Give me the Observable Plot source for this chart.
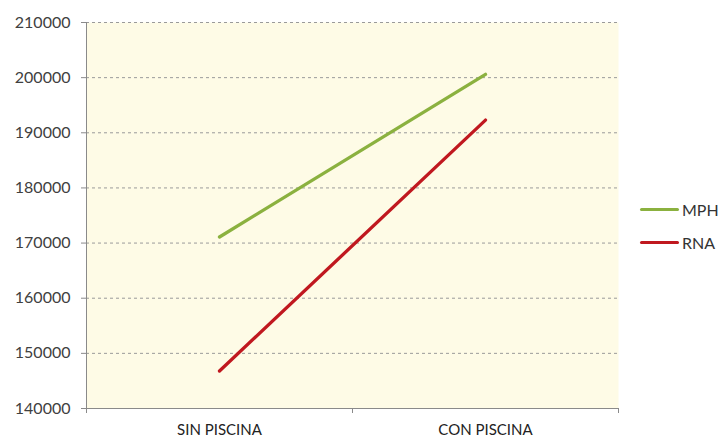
<!DOCTYPE html>
<html>
<head>
<meta charset="utf-8">
<script src="https://cdn.jsdelivr.net/npm/d3@7"></script>
<script src="https://cdn.jsdelivr.net/npm/@observablehq/plot@0.6"></script>
<style>
  body { margin: 0; background: #fff; }
  #wrap { position: relative; width: 719px; height: 437px; font-family: Lato, "Open Sans", sans-serif; }
  .leg { position: absolute; left: 640px; display: flex; align-items: center; font-size: 16px; color: #333; }
  .leg span.sw { display: inline-block; width: 39px; height: 3px; margin-right: 3px; border-radius: 2px; }
</style>
</head>
<body>
<div id="wrap"></div>
<script>
const categories = ["SIN PISCINA", "CON PISCINA"];
const seriesNames = ["MPH", "RNA"];
const mph = [171100, 200600];
const rna = [146800, 192300];
const yTicks = [140000, 150000, 160000, 170000, 180000, 190000, 200000, 210000];
const colors = ["#8BB13F", "#C0181F"];

const data = [];
[mph, rna].forEach((vals, s) => vals.forEach((v, i) => data.push({series: seriesNames[s], i: i + 0.5, value: v})));

const chart = Plot.plot({
  width: 719,
  height: 437,
  marginLeft: 86,
  marginRight: 101,
  marginTop: 22,
  marginBottom: 29,
  style: {fontFamily: "Lato, 'Open Sans', sans-serif", color: "#404040", background: "#fff"},
  x: {domain: [0, categories.length]},
  y: {domain: [140000, 210000]},
  color: {domain: seriesNames, range: colors},
  marks: [
    Plot.frame({fill: "#FEFBE6", stroke: null}),
    Plot.gridY(yTicks.slice(1), {stroke: "#9A9A9A", strokeOpacity: 1, strokeDasharray: "3,3"}),
    Plot.ruleY([140000], {stroke: "#8A8A8A"}),
    Plot.ruleX([0], {stroke: "#8A8A8A"}),
    Plot.axisY({ticks: yTicks, tickSize: 5, tickPadding: 11, tickFormat: d => String(d), fontSize: 16, stroke: "#8A8A8A", fill: "#404040", label: null}),
    Plot.axisX({ticks: d3.range(categories.length + 1), tickSize: 5, tickFormat: () => "", stroke: "#8A8A8A", label: null}),
    Plot.axisX({ticks: categories.map((c, i) => i + 0.5), tickSize: 0, tickPadding: 16, tickFormat: d => categories[Math.round(d - 0.5)], fontSize: 15, fill: "#222", label: null}),
    Plot.line(data, {x: "i", y: "value", z: "series", stroke: "series", strokeWidth: 3.3, strokeLinecap: "round"})
  ]
});

const wrap = document.getElementById("wrap");
wrap.appendChild(chart);
const legY = [209, 242];
seriesNames.forEach((n, s) => {
  const d = document.createElement("div");
  d.className = "leg";
  d.style.top = (legY[s] - 10) + "px";
  d.style.height = "20px";
  d.innerHTML = `<span class="sw" style="background:${colors[s]}"></span>${n}`;
  wrap.appendChild(d);
});
</script>
</body>
</html>
